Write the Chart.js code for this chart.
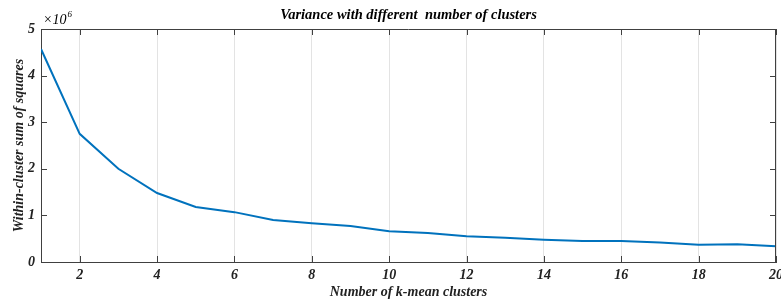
<!DOCTYPE html>
<html>
<head>
<meta charset="utf-8">
<script src="https://cdn.jsdelivr.net/npm/chart.js@4"></script>
<style>
  body { margin: 0; background: #fff; }
  canvas { display: block; }
</style>
</head>
<body>
<canvas id="GraficoClusters" width="781" height="299"></canvas>
<script>
// dados
var clusters = [1, 2, 3, 4, 5, 6, 7, 8, 9, 10, 11, 12, 13, 14, 15, 16, 17, 18, 19, 20];
var wcss = [4570000, 2750000, 2000000, 1480000, 1180000, 1070000, 900000, 830000, 770000, 660000,
            620000, 550000, 520000, 480000, 450000, 450000, 420000, 370000, 380000, 340000];
var xTicks = [2, 4, 6, 8, 10, 12, 14, 16, 18, 20];
var yTicks = [0, 1000000, 2000000, 3000000, 4000000, 5000000];

var corEixo = '#404040';
var fonte = 'Liberation Serif';

// caixa completa + ticks para dentro (estilo matlab)
var caixaPlugin = {
    id: 'caixa',
    afterDraw: function (chart) {
        var ctx = chart.ctx;
        var a = chart.chartArea;
        var sx = chart.scales.x, sy = chart.scales.y;
        ctx.save();
        ctx.strokeStyle = corEixo;
        ctx.lineWidth = 1;
        ctx.beginPath();
        ctx.moveTo(a.left, a.top + 0.5);
        ctx.lineTo(a.right, a.top + 0.5);
        ctx.moveTo(a.right - 0.5, a.top);
        ctx.lineTo(a.right - 0.5, a.bottom);
        xTicks.forEach(function (v) {
            var px = Math.round(sx.getPixelForValue(v)) + 0.5;
            ctx.moveTo(px, a.bottom);
            ctx.lineTo(px, a.bottom - 6);
            ctx.moveTo(px, a.top);
            ctx.lineTo(px, a.top + 6);
        });
        yTicks.forEach(function (v) {
            var py = Math.round(sy.getPixelForValue(v)) + 0.5;
            ctx.moveTo(a.left, py);
            ctx.lineTo(a.left + 6, py);
            ctx.moveTo(a.right, py);
            ctx.lineTo(a.right - 6, py);
        });
        ctx.stroke();

        // titulo e multiplicador
        ctx.fillStyle = '#000';
        ctx.textAlign = 'center';
        ctx.textBaseline = 'middle';
        ctx.font = 'italic bold 14.5px "' + fonte + '"';
        ctx.fillText('Variance with different  number of clusters', (a.left + a.right) / 2, 15);

        ctx.textAlign = 'left';
        ctx.textBaseline = 'alphabetic';
        ctx.font = 'italic 14px "' + fonte + '"';
        ctx.fillText('\u00d710', a.left + 2, 24);
        var w = ctx.measureText('\u00d710').width;
        ctx.font = 'italic 9px "' + fonte + '"';
        ctx.fillText('6', a.left + 3 + w, 17);
        ctx.restore();
    }
};

var ctx = document.getElementById('GraficoClusters').getContext('2d');

var grafico = new Chart(ctx, {
    type: 'line',
    data: {
        datasets: [{
            label: 'WCSS',
            data: clusters.map(function (k, i) { return { x: k, y: wcss[i] }; }),
            borderColor: '#0072BD',
            borderWidth: 2,
            pointRadius: 0,
            fill: false,
            tension: 0
        }]
    },
    options: {
        responsive: false,
        animation: false,
        layout: { padding: { top: 29, right: 5, left: 0, bottom: 0 } },
        plugins: {
            legend: { display: false },
            title: { display: false },
            tooltip: { enabled: false }
        },
        scales: {
            x: {
                type: 'linear',
                min: 1,
                max: 20,
                afterBuildTicks: function (scale) {
                    scale.ticks = xTicks.map(function (v) { return { value: v }; });
                },
                afterFit: function (scale) {
                    scale.height = 37;
                    // o "20" pode sair da borda, como no original
                    scale.paddingRight = 0;
                    scale.paddingLeft = 0;
                },
                grid: { color: '#e3e3e3', drawTicks: false },
                border: { display: true, color: corEixo },
                ticks: {
                    padding: 5,
                    color: '#222',
                    maxRotation: 0,
                    font: { family: fonte, size: 14, style: 'italic', weight: 'bold' }
                },
                title: {
                    display: true,
                    text: 'Number of k-mean clusters',
                    color: '#222',
                    padding: { top: 0, bottom: -2 },
                    font: { family: fonte, size: 14, style: 'italic', weight: 'bold' }
                }
            },
            y: {
                min: 0,
                max: 5000000,
                afterBuildTicks: function (scale) {
                    scale.ticks = yTicks.map(function (v) { return { value: v }; });
                },
                afterFit: function (scale) { scale.width = 41; },
                grid: { drawOnChartArea: false, drawTicks: false },
                border: { display: true, color: corEixo },
                ticks: {
                    padding: 6,
                    color: '#222',
                    font: { family: fonte, size: 14, style: 'italic', weight: 'bold' },
                    callback: function (v) { return v / 1000000; }
                },
                title: {
                    display: true,
                    text: 'Within-cluster sum of squares',
                    color: '#222',
                    padding: 11,
                    font: { family: fonte, size: 14, style: 'italic', weight: 'bold' }
                }
            }
        }
    },
    plugins: [caixaPlugin]
});
</script>
</body>
</html>
